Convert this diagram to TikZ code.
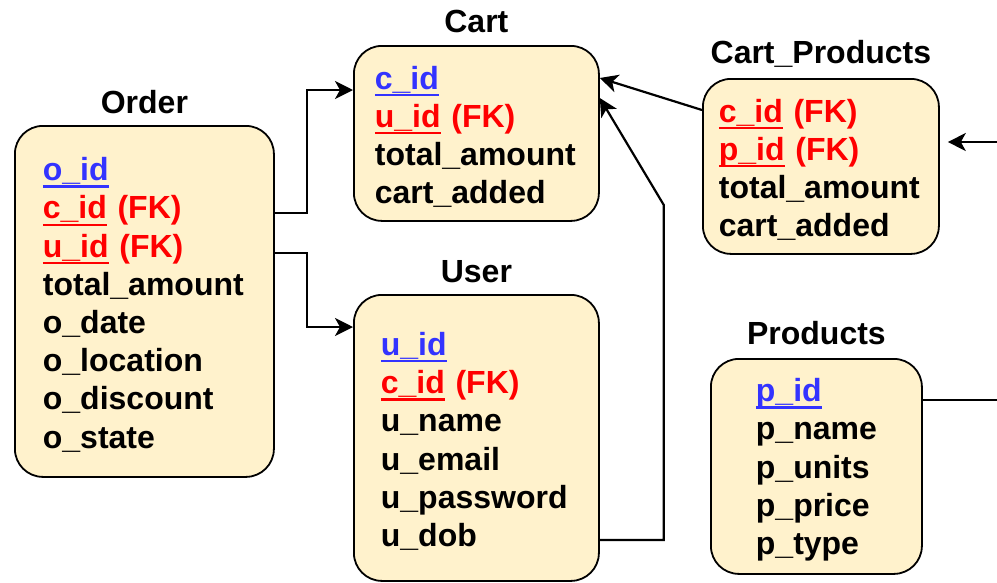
\documentclass[tikz,border=0pt]{standalone}
\usepackage{fontspec}
\setmainfont{Liberation Sans}
\usepackage{xcolor}
\usepackage{tikz}
\usetikzlibrary{positioning,arrows.meta}
\definecolor{tblfill}{HTML}{FFF2CC}
\definecolor{pkblue}{RGB}{51,51,255}
\definecolor{fkred}{RGB}{255,0,0}
\newcommand{\keyline}[1]{\setbox0\hbox{#1}\rlap{\rule[-7pt]{\wd0}{2.4pt}}\box0\relax}
\newcommand{\pkey}[1]{\textcolor{pkblue}{\keyline{#1}}}
\newcommand{\fkey}[1]{\textcolor{fkred}{\keyline{#1} (FK)}}
\hyphenpenalty=10000
\tikzset{
  conn/.style={line width=2.2pt, -{Stealth[length=18pt,width=18pt,inset=5pt]}}
}

\begin{document}
\begin{tikzpicture}[x=1pt, y=-1pt,
  tbl/.style={draw=black, line width=1.8pt, fill=tblfill, rounded corners=28pt,
    anchor=north west, align=left, inner ysep=0pt,
    font=\bfseries\fontsize{32}{38.2}\selectfont,
    execute at begin node={\rule{0pt}{30pt}}},
  ttl/.style={font=\bfseries\fontsize{32}{38.2}\selectfont, inner sep=0pt, text depth=0pt}]
  \useasboundingbox (0,0) rectangle (997,582);

  \node[tbl, minimum height=351pt, text width=203pt, inner xsep=28pt] (order) at (14,125)
    {\pkey{o\_id}\\ \fkey{c\_id}\\ \fkey{u\_id}\\ total\_amount\\ o\_date\\ o\_location\\ o\_discount\\ o\_state};
  \node[tbl, minimum height=175pt, text width=203pt, inner xsep=21pt] (cart) at (353,45)
    {\pkey{c\_id}\\ \fkey{u\_id}\\ total\_amount\\ cart\_added};
  \node[tbl, minimum height=286pt, text width=191pt, inner xsep=27pt] (user) at (353,294)
    {\pkey{u\_id}\\ \fkey{c\_id}\\ u\_name\\ u\_email\\ u\_password\\ u\_dob};
  \node[tbl, minimum height=175pt, text width=204pt, inner xsep=16pt] (cp) at (702,78)
    {\fkey{c\_id}\\ \fkey{p\_id}\\ total\_amount\\ cart\_added};
  \node[tbl, minimum height=215pt, text width=121pt, inner xsep=45pt] (prod) at (710,358)
    {\pkey{p\_id}\\ p\_name\\ p\_units\\ p\_price\\ p\_type};

  \node[ttl, above=11pt of order] (order-t) {Order};
  \node[ttl, above=12pt of cart] (cart-t) {Cart};
  \node[ttl, above=11pt of user] (user-t) {User};
  \node[ttl, above=14pt of cp] (cp-t) {Cart\_Products};
  \node[ttl, above=13pt of prod] (prod-t) {Products};

  \coordinate (cp-in) at (997,142);
  \coordinate (prod-out) at (997,400);

  \draw[conn] ([yshift=-88pt]order.north east) -- ++(32pt,0pt) |- ([yshift=-45pt]cart.north west);
  \draw[conn] ([yshift=-128pt]order.north east) -- ++(32pt,0pt) |- ([yshift=-33pt]user.north west);
  \draw[conn] ([yshift=-246pt]user.north east) -- ++(64pt,0pt) -- ++(0pt,335pt) -- ([yshift=-53pt]cart.north east);
  \draw[conn] ([yshift=-32pt]cp.north west) -- ([yshift=-33pt]cart.north east);
  \draw[conn, shorten >=8pt] (cp-in) -- ([yshift=-64pt]cp.north east);
  \draw[line width=2.2pt] ([yshift=-42pt]prod.north east) -- (prod-out);
\end{tikzpicture}
\end{document}
